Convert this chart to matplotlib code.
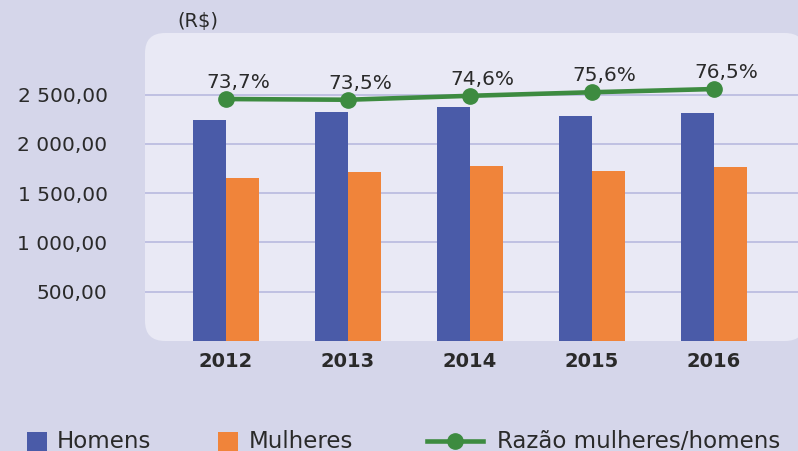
import matplotlib
matplotlib.use('Agg')
import matplotlib.pyplot as plt
import numpy as np
from matplotlib.patches import FancyBboxPatch, Rectangle
from matplotlib.lines import Line2D

anos = ['2012', '2013', '2014', '2015', '2016']
homens = [2240, 2320, 2375, 2285, 2310]
mulheres = [1655, 1710, 1775, 1725, 1765]
razao = [73.7, 73.5, 74.6, 75.6, 76.5]
yticks = [500, 1000, 1500, 2000, 2500]

bg = '#d5d6ea'
painel = '#e9e9f5'
azul = '#4a5ba8'
laranja = '#f0843a'
verde = '#3d8b40'
texto = '#2a2a2a'

W, H = 798, 451
fig = plt.figure(figsize=(W / 100, H / 100), dpi=100, facecolor=bg)

# rounded light panel behind the plot (pixel coords)
fig.add_artist(FancyBboxPatch((145, H - 341), 660, 308,
                              boxstyle='round,pad=0,rounding_size=20',
                              transform=None, facecolor=painel,
                              edgecolor='none', zorder=-1))

ax = fig.add_axes([145 / W, (H - 341) / H, 653 / W, 308 / H])
ax.set_facecolor('none')
x = np.arange(len(anos))
w = 0.27
ax.bar(x - w / 2, homens, w, color=azul, zorder=2)
ax.bar(x + w / 2, mulheres, w, color=laranja, zorder=2)
ax.set_xlim(-0.664, 4.689)
ax.set_ylim(0, 3124)
ax.set_yticks(yticks)
ax.set_yticklabels([f'{v:,.2f}'.replace(',', ' ').replace('.', ',') for v in yticks],
                   fontsize=14.5, color=texto)
ax.set_xticks(x)
ax.set_xticklabels(anos, fontsize=14, fontweight='bold', color=texto)
ax.tick_params(axis='y', length=0, pad=27)
ax.tick_params(axis='x', length=0, pad=8)
ax.grid(axis='y', color='#bcbde0', lw=1.3)
ax.set_axisbelow(True)
for s in ax.spines.values():
    s.set_visible(False)

ax2 = ax.twinx()
ax2.set_ylim(5.9, 92.2)
ax2.axis('off')
ax2.plot(x, razao, color=verde, lw=3.3, marker='o', markersize=11, zorder=3)
for xi, r in zip(x, razao):
    ax2.annotate(f'{r:.1f}%'.replace('.', ','), (xi, r), xytext=(9, 12),
                 textcoords='offset points', ha='center', va='center',
                 fontsize=14.5, color=texto)

fig.text(198 / W, (H - 21) / H, '(R$)', fontsize=14, color=texto,
         ha='center', va='center')

# legend along the bottom edge
fig.add_artist(Rectangle((27, 0), 20, 19, transform=None, facecolor=azul, edgecolor='none'))
fig.add_artist(Rectangle((218, 0), 20, 19, transform=None, facecolor=laranja, edgecolor='none'))
fig.add_artist(Line2D([427, 483], [10, 10], transform=None, color=verde, lw=3.3))
fig.add_artist(Line2D([455], [10], transform=None, color=verde, marker='o', markersize=11))
for xt, t in [(57, 'Homens'), (249, 'Mulheres'), (497, 'Razão mulheres/homens')]:
    fig.text(xt / W, 10 / H, t, fontsize=16.5, color=texto, ha='left', va='center')

fig.savefig('out.png', dpi=100, facecolor=bg)
